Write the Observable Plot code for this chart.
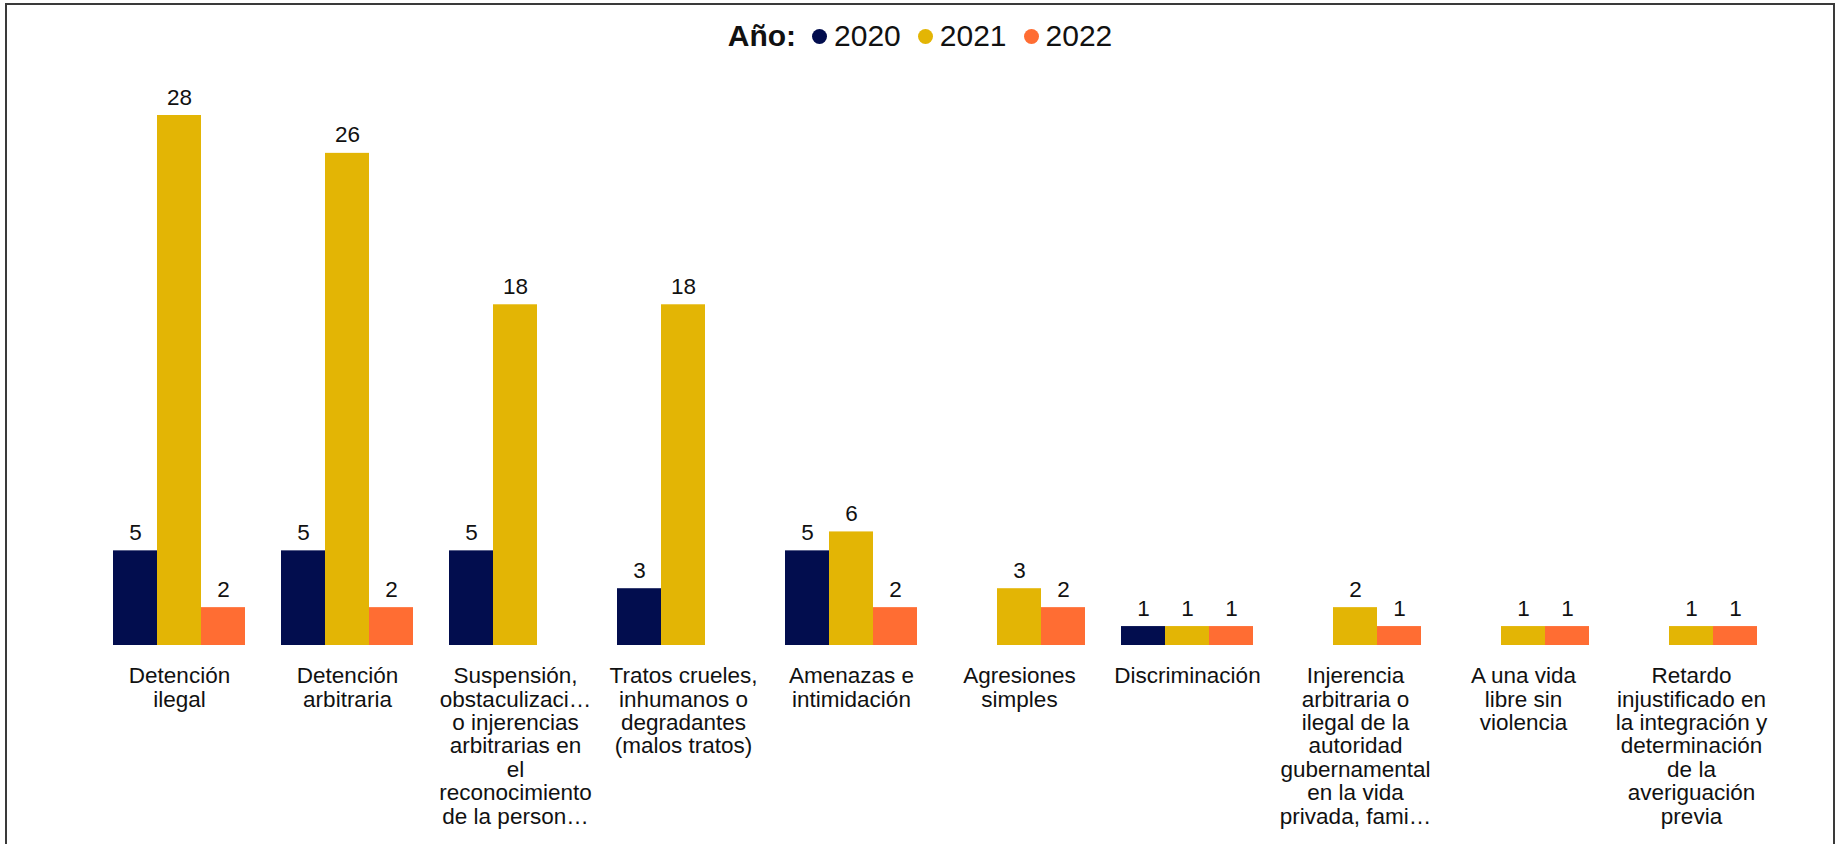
<!DOCTYPE html>
<html>
<head>
<meta charset="utf-8">
<script src="https://cdn.jsdelivr.net/npm/d3@7"></script>
<script src="https://cdn.jsdelivr.net/npm/@observablehq/plot@0.6"></script>
<style>
  html, body { margin: 0; padding: 0; background: #fff; overflow: hidden; }
  body { width: 1837px; height: 844px; position: relative; font-family: "Liberation Sans", Arial, sans-serif; }
  #frame {
    position: absolute; left: 5px; top: 3px; width: 1826px; height: 900px;
    border: 2px solid #3a3a3a; background: #fff;
  }
  #legend {
    height: 62px; display: flex; align-items: center; justify-content: center;
    font-size: 30px; color: #111;
  }
  #legend .title { font-weight: bold; margin-right: 16px; }
  #legend .item { display: flex; align-items: center; margin-right: 17px; }
  #legend .item:last-child { margin-right: 0; }
  #legend .sw { width: 15px; height: 15px; border-radius: 50%; margin-right: 7px; }
  #chart svg { display: block; }
</style>
</head>
<body>
<div id="frame">
  <div id="legend"></div>
  <div id="chart"></div>
</div>
<script>
const categories = [
  "Detención ilegal",
  "Detención arbitraria",
  "Suspensión, obstaculización o injerencias arbitrarias en el reconocimiento de la persona",
  "Tratos crueles, inhumanos o degradantes (malos tratos)",
  "Amenazas e intimidación",
  "Agresiones simples",
  "Discriminación",
  "Injerencia arbitraria o ilegal de la autoridad gubernamental en la vida privada, familiar",
  "A una vida libre sin violencia",
  "Retardo injustificado en la integración y determinación de la averiguación previa"
];
const tickLabels = [
  "Detención\nilegal",
  "Detención\narbitraria",
  "Suspensión,\nobstaculizaci…\no injerencias\narbitrarias en\nel\nreconocimiento\nde la person…",
  "Tratos crueles,\ninhumanos o\ndegradantes\n(malos tratos)",
  "Amenazas e\nintimidación",
  "Agresiones\nsimples",
  "Discriminación",
  "Injerencia\narbitraria o\nilegal de la\nautoridad\ngubernamental\nen la vida\nprivada, fami…",
  "A una vida\nlibre sin\nviolencia",
  "Retardo\ninjustificado en\nla integración y\ndeterminación\nde la\naveriguación\nprevia"
];
const years = ["2020", "2021", "2022"];
const values2020 = [5, 5, 5, 3, 5, null, 1, null, null, null];
const values2021 = [28, 26, 18, 18, 6, 3, 1, 2, 1, 1];
const values2022 = [2, 2, null, null, 2, 2, 1, 1, 1, 1];
const colors = ["#020D4E", "#E3B505", "#FF6D33"];

const series = [values2020, values2021, values2022];
const data = [];
categories.forEach((c, i) => {
  years.forEach((y, j) => {
    const v = series[j][i];
    if (v != null) data.push({cat: c, year: y, value: v});
  });
});
const labelOf = new Map(categories.map((c, i) => [c, tickLabels[i]]));

// legend
const legend = document.getElementById("legend");
const t = document.createElement("span");
t.className = "title"; t.textContent = "Año:";
legend.appendChild(t);
years.forEach((y, j) => {
  const it = document.createElement("span"); it.className = "item";
  const sw = document.createElement("span"); sw.className = "sw"; sw.style.background = colors[j];
  const tx = document.createElement("span"); tx.textContent = y;
  it.appendChild(sw); it.appendChild(tx); legend.appendChild(it);
});

const chart = Plot.plot({
  width: 1826,
  height: 777,
  marginTop: 48,
  marginBottom: 199,
  marginLeft: 103,
  marginRight: 74,
  style: {fontFamily: "'Liberation Sans', Arial, sans-serif", background: "transparent"},
  fx: {domain: categories, paddingInner: 0.217, paddingOuter: 0, axis: null, label: null},
  x: {domain: years, padding: 0, axis: null},
  y: {domain: [0, 28], axis: null},
  color: {domain: years, range: colors},
  marks: [
    Plot.barY(data, {fx: "cat", x: "year", y: "value", fill: "year"}),
    Plot.text(data, {
      fx: "cat", x: "year", y: "value", text: d => String(d.value),
      lineAnchor: "bottom", dy: -11, fontSize: 22.5, fill: "#111"
    }),
    Plot.axisFx({
      anchor: "bottom", tickSize: 0, tickPadding: 21, label: null,
      tickFormat: d => labelOf.get(d), fontSize: 22.5, lineHeight: 1.04,
      fill: "#111", textOverflow: null
    })
  ]
});
document.getElementById("chart").appendChild(chart);
</script>
</body>
</html>
